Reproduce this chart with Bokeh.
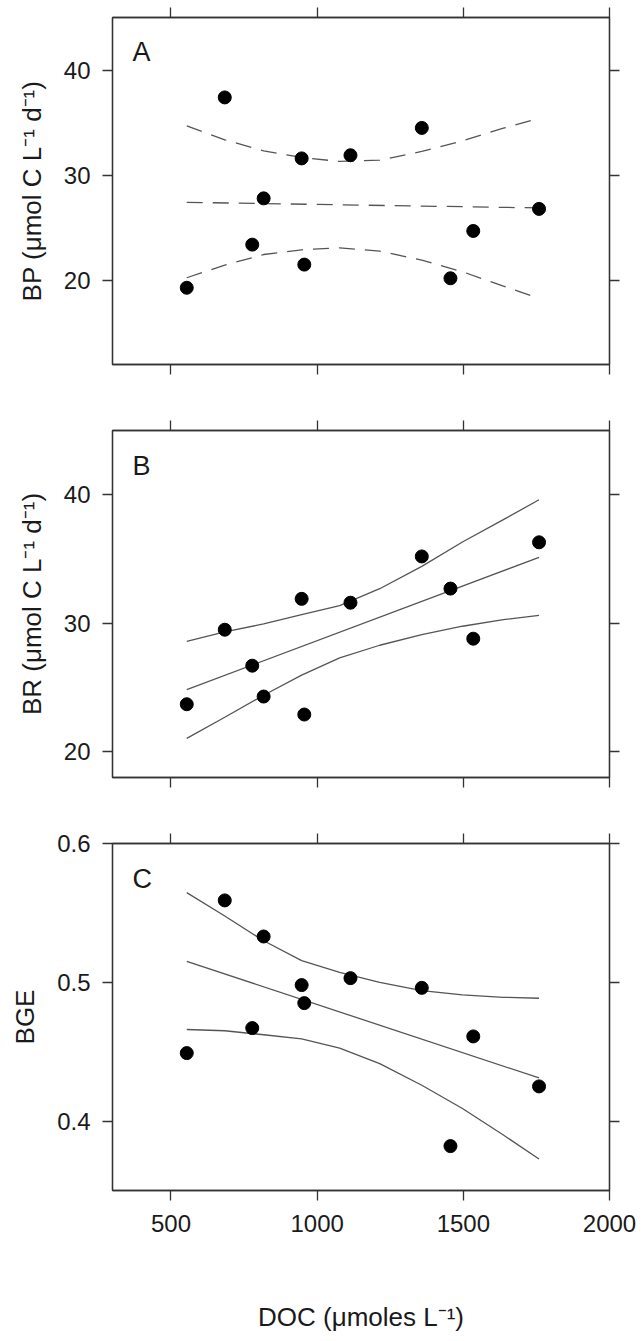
from bokeh.plotting import figure
from bokeh.models import Range1d, LinearAxis, FixedTicker, Label
from bokeh.layouts import column
from bokeh.embed import file_html
from bokeh.resources import INLINE

# ---- data ----
doc = [554, 684, 778, 817, 947, 956, 1114, 1358, 1456, 1534, 1759]
bp = [19.3, 37.4, 23.4, 27.8, 31.6, 21.5, 31.9, 34.5, 20.2, 24.7, 26.8]
br = [23.7, 29.5, 26.7, 24.3, 31.9, 22.9, 31.6, 35.2, 32.7, 28.8, 36.3]
bge = [0.449, 0.559, 0.467, 0.533, 0.498, 0.485, 0.503, 0.496, 0.382, 0.461, 0.425]

fit_x = [554, 1759]
bp_fit = [27.42, 26.89]
br_fit = [24.84, 35.13]
bge_fit = [0.5151, 0.4311]

band_x = [554, 684, 817, 947, 1077, 1214, 1358, 1497, 1637, 1759]
bp_upper = [34.69, 33.37, 32.32, 31.69, 31.31, 31.44, 32.26, 33.27, 34.47, 35.42]
bp_lower = [20.25, 21.45, 22.46, 22.91, 23.10, 22.78, 21.93, 20.82, 19.46, 18.29]
br_upper = [28.60, 29.33, 29.95, 30.67, 31.37, 32.69, 34.43, 36.32, 38.06, 39.61]
br_lower = [21.04, 22.69, 24.40, 25.96, 27.31, 28.29, 29.12, 29.77, 30.28, 30.62]
bge_upper = [0.5646, 0.5478, 0.5299, 0.5156, 0.5072, 0.5000, 0.4940, 0.4909, 0.4892, 0.4885]
bge_lower = [0.4660, 0.4651, 0.4622, 0.4593, 0.4526, 0.4414, 0.4258, 0.4091, 0.3900, 0.3727]

x_ticks = [500, 1000, 1500, 2000]
bp_ticks = [20, 30, 40]
br_ticks = [20, 30, 40]
bge_ticks = [0.4, 0.5, 0.6]

FONT = "Liberation Sans"
FRAME = "#333333"
LINE = "#555555"


def style_axis(ax, ticks, show_labels):
    ax.ticker = FixedTicker(ticks=ticks)
    ax.major_tick_in = 0
    ax.major_tick_out = 10
    ax.minor_tick_in = 0
    ax.minor_tick_out = 0
    ax.axis_line_color = FRAME
    ax.axis_line_width = 1.3
    ax.major_tick_line_color = FRAME
    ax.major_tick_line_width = 1.3
    if show_labels:
        ax.major_label_text_font = FONT
        ax.major_label_text_font_size = "24px"
        ax.major_label_text_color = "#1a1a1a"
    else:
        ax.major_label_text_color = None
        ax.major_label_standoff = 0


def panel(yr, yticks, ylabel, letter, letter_y, btop, bbot, xlabels, xlabel=None):
    p = figure(frame_width=497, frame_height=347,
               x_range=Range1d(300, 2000), y_range=Range1d(*yr),
               x_axis_location=None, y_axis_location=None,
               output_backend="svg", toolbar_location=None,
               min_border_left=112, min_border_right=30,
               min_border_top=btop, min_border_bottom=bbot)
    p.background_fill_color = "white"
    p.border_fill_color = "white"
    p.outline_line_color = FRAME
    p.outline_line_width = 1.3
    p.outline_line_alpha = 1.0
    p.grid.grid_line_color = None

    left = LinearAxis()
    style_axis(left, yticks, True)
    left.major_label_standoff = 12
    left.axis_label = ylabel
    left.axis_label_text_font = FONT
    left.axis_label_text_font_size = "26px"
    left.axis_label_text_font_style = "normal"
    left.axis_label_text_color = "#1a1a1a"
    left.axis_label_standoff = 14
    p.add_layout(left, "left")

    right = LinearAxis()
    style_axis(right, yticks, False)
    p.add_layout(right, "right")

    top = LinearAxis()
    style_axis(top, x_ticks, False)
    p.add_layout(top, "above")

    bottom = LinearAxis()
    style_axis(bottom, x_ticks, xlabels)
    if xlabels:
        bottom.major_label_standoff = 14
        bottom.axis_label = xlabel
        bottom.axis_label_text_font = FONT
        bottom.axis_label_text_font_size = "26px"
        bottom.axis_label_text_font_style = "normal"
        bottom.axis_label_text_color = "#1a1a1a"
        bottom.axis_label_standoff = 67
    p.add_layout(bottom, "below")

    p.add_layout(Label(x=368, y=letter_y, text=letter, text_font=FONT,
                       text_font_size="27px", text_color="#1a1a1a",
                       text_align="left", text_baseline="alphabetic"))
    return p


pA = panel((12, 45), bp_ticks, "BP (\u03bcmol C L\u207b\u00b9 d\u207b\u00b9)", "A", 41.76, 17, 33, False)
pA.line(band_x, bp_upper, line_color=LINE, line_width=1.3, line_dash="16 10")
pA.line(band_x, bp_lower, line_color=LINE, line_width=1.3, line_dash="16 10")
pA.line(fit_x, bp_fit, line_color=LINE, line_width=1.3, line_dash="16 10")
pA.scatter(doc, bp, size=13, color="black")

pB = panel((18, 45), br_ticks, "BR (\u03bcmol C L\u207b\u00b9 d\u207b\u00b9)", "B", 42.2, 33, 33, False)
pB.line(band_x, br_upper, line_color=LINE, line_width=1.3)
pB.line(band_x, br_lower, line_color=LINE, line_width=1.3)
pB.line(fit_x, br_fit, line_color=LINE, line_width=1.3)
pB.scatter(doc, br, size=13, color="black")

pC = panel((0.35, 0.6), bge_ticks, "BGE", "C", 0.5741, 33, 151, True,
           xlabel="DOC (\u03bcmoles L\u207b\u00b9)")
pC.line(band_x, bge_upper, line_color=LINE, line_width=1.3)
pC.line(band_x, bge_lower, line_color=LINE, line_width=1.3)
pC.line(fit_x, bge_fit, line_color=LINE, line_width=1.3)
pC.scatter(doc, bge, size=13, color="black")

layout = column(pA, pB, pC, spacing=0)
open("out.html", "w").write(file_html(layout, INLINE))
